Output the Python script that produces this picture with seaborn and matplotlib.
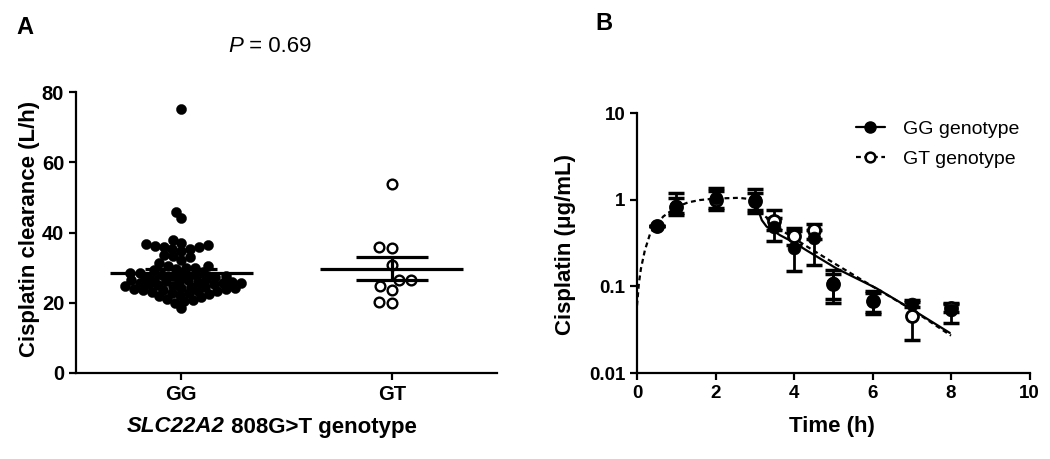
import numpy as np
import pandas as pd
import matplotlib
matplotlib.use("Agg")
import matplotlib.pyplot as plt
import seaborn as sns
from matplotlib.offsetbox import TextArea, HPacker, AnchoredOffsetbox
from matplotlib.lines import Line2D

sns.set_theme(style="ticks")
plt.rcParams['font.family'] = ['Liberation Sans', 'DejaVu Sans']
plt.rcParams['text.color'] = 'black'
plt.rcParams['axes.labelcolor'] = 'black'
plt.rcParams['xtick.color'] = 'black'
plt.rcParams['ytick.color'] = 'black'

# ---------------- Panel A data ----------------
genotypes = ["GG", "GT"]
gg_clearance = [75.3, 45.8, 44.2, 37.9,
                36.2, 35.8, 35.2, 36.6, 36.9, 35.3, 36.0, 36.3,
                33.6, 33.0, 34.8, 32.2, 33.2,
                30.5, 30.0, 31.2, 30.5, 29.7, 29.9,
                28.8, 28.5, 28.2, 28.0, 27.8, 27.5, 27.3, 27.0, 26.8, 26.6,
                26.4, 26.2, 26.0, 25.8, 25.6, 25.5, 25.3, 25.1, 24.9, 24.7,
                24.5, 24.3, 24.1, 23.9, 23.7, 23.5, 23.3, 23.1, 22.9, 22.7,
                22.5, 22.3, 28.6, 27.6, 26.9, 26.3, 25.7, 25.2, 24.6, 24.0,
                23.4, 29.2,
                21.5, 20.8, 20.5, 20.0, 21.0, 21.8, 18.6]
gt_clearance = [53.9, 35.8, 35.5, 30.8, 26.5, 26.5, 23.6, 24.8, 19.8, 20.3]
a_yticks = [0, 20, 40, 60, 80]

# ---------------- Panel B data ----------------
times = [0.5, 1, 2, 3, 3.5, 4, 4.5, 5, 6, 7, 8]
gg_conc = [0.50, 0.85, 1.04, 1.00, 0.49, 0.28, 0.36, 0.108, 0.067, 0.063, 0.054]
gg_low = [0.50, 0.67, 0.75, 0.70, 0.33, 0.15, 0.177, 0.064, 0.048, 0.058, 0.038]
gg_high = [0.50, 1.19, 1.37, 1.32, 0.62, 0.43, 0.45, 0.155, 0.089, 0.070, 0.064]
gt_conc = [0.50, 0.82, 1.00, 0.97, 0.56, 0.38, 0.45, 0.105, 0.068, 0.045, 0.056]
gt_low = [0.50, 0.70, 0.80, 0.75, 0.45, 0.30, 0.35, 0.071, 0.050, 0.024, 0.050]
gt_high = [0.50, 1.05, 1.25, 1.19, 0.76, 0.47, 0.53, 0.140, 0.083, 0.066, 0.063]
gg_fit_t = [3.0, 3.05, 3.18, 3.3, 3.64, 4.0, 4.32, 5.09, 6.1, 7.04, 7.97]
gg_fit_c = [1.0, 0.85, 0.58, 0.49, 0.39, 0.32, 0.26, 0.16, 0.095, 0.053, 0.029]
gt_fit_t = [0, 0.05, 0.1, 0.2, 0.33, 0.5, 0.67, 1.0, 1.3, 1.6, 2.0, 2.6, 3.0,
            3.13, 3.47, 3.73, 4.32, 5.09, 6.0, 7.0, 8.0]
gt_fit_c = [0.06, 0.11, 0.16, 0.26, 0.40, 0.52, 0.64, 0.82, 0.93, 0.99, 1.03,
            1.05, 1.0, 0.73, 0.53, 0.43, 0.29, 0.177, 0.10, 0.054, 0.027]
b_xticks = [0, 2, 4, 6, 8, 10]
b_yticks = [0.01, 0.1, 1, 10]
b_yticklabels = ["0.01", "0.1", "1", "10"]
legend_labels = ["GG genotype", "GT genotype"]

W, H = 1050, 459
fig = plt.figure(figsize=(W / 100, H / 100), dpi=100)
fig.patch.set_facecolor("white")

def fx(px):
    return px / W

def fy(py):
    return 1 - py / H

axA = fig.add_axes([fx(76), fy(373), fx(497 - 76), (373 - 92) / H])
axB = fig.add_axes([fx(637), fy(373), fx(1029.5 - 637), (373 - 113) / H])

for ax in (axA, axB):
    ax.set_facecolor("white")
    for s in ("top", "right"):
        ax.spines[s].set_visible(False)
    for s in ("left", "bottom"):
        ax.spines[s].set_linewidth(1.6)
        ax.spines[s].set_color("black")
    ax.tick_params(direction="out", length=5, width=1.6, color="black",
                   labelcolor="black")
    ax.grid(False)

# ---------------- Panel A ----------------
dfA = pd.DataFrame({
    "genotype": ["GG"] * len(gg_clearance) + ["GT"] * len(gt_clearance),
    "clearance": gg_clearance + gt_clearance,
})
# swarm laid out with a smaller marker so that points overlap like the original
sns.swarmplot(data=dfA[dfA.genotype == "GG"], x="genotype", y="clearance",
              order=genotypes, color="black", edgecolor="black", linewidth=0.3,
              size=6.0, ax=axA, zorder=3)
sns.swarmplot(data=dfA[dfA.genotype == "GT"], x="genotype", y="clearance",
              order=genotypes, color="white", edgecolor="black", linewidth=1.7,
              size=7.0, ax=axA, zorder=3)
swarm_cols = list(axA.collections)
fig.canvas.draw()  # compute swarm positions
gg_coll = swarm_cols[0]
if "draw" in gg_coll.__dict__:
    del gg_coll.__dict__["draw"]  # freeze positions
gg_coll.set_sizes([7.3 ** 2])

for i, vals in enumerate([gg_clearance, gt_clearance]):
    v = np.asarray(vals)
    m = v.mean()
    se = v.std(ddof=1) / np.sqrt(len(v))
    axA.hlines(m, i - 0.34, i + 0.34, color="black", lw=2.3, zorder=4)
    axA.hlines([m - se, m + se], i - 0.17, i + 0.17, color="black", lw=2.3, zorder=4)
    axA.vlines(i, m - se, m + se, color="black", lw=2.3, zorder=4)

axA.set_xlim(-0.5, 1.5)
axA.set_ylim(0, 80)
axA.set_yticks(a_yticks)
axA.set_xticks([0, 1])
axA.set_xticklabels(genotypes)
for lab in axA.get_xticklabels() + axA.get_yticklabels():
    lab.set_fontweight("bold")
    lab.set_fontsize(14.5)
axA.set_xlabel("")
axA.set_ylabel("Cisplatin clearance (L/h)", fontsize=16, fontweight="bold", color="black")
axA.yaxis.set_label_coords((40 - 76) / 421, 0.512)

# x label with italic gene name
xl = HPacker(children=[
    TextArea("SLC22A2", textprops=dict(fontsize=16, fontweight="bold", fontstyle="italic", color="black")),
    TextArea(" 808G>T genotype", textprops=dict(fontsize=16, fontweight="bold", color="black")),
], align="baseline", pad=0, sep=0)
fig.add_artist(AnchoredOffsetbox(loc="center", child=xl, frameon=False, pad=0, borderpad=0,
                                 bbox_to_anchor=(fx(272), fy(427)),
                                 bbox_transform=fig.transFigure))

pv = HPacker(children=[
    TextArea("P", textprops=dict(fontsize=16, fontstyle="italic", color="black")),
    TextArea(" = 0.69", textprops=dict(fontsize=16, color="black")),
], align="baseline", pad=0, sep=0)
fig.add_artist(AnchoredOffsetbox(loc="center", child=pv, frameon=False, pad=0, borderpad=0,
                                 bbox_to_anchor=(fx(270), fy(47)),
                                 bbox_transform=fig.transFigure))

fig.text(fx(25), fy(27), "A", fontsize=17, fontweight="bold", ha="center", va="center", color="black")
fig.text(fx(604), fy(24), "B", fontsize=17, fontweight="bold", ha="center", va="center", color="black")

# ---------------- Panel B ----------------
axB.set_yscale("log")
sns.lineplot(x=gt_fit_t, y=gt_fit_c, color="black", lw=1.6, ax=axB,
             estimator=None, sort=False, zorder=2)
axB.lines[-1].set_linestyle((0, (2.2, 1.6)))
sns.lineplot(x=gg_fit_t, y=gg_fit_c, color="black", lw=1.6, ax=axB,
             estimator=None, sort=False, zorder=2)

gt_c = np.asarray(gt_conc)
gg_c = np.asarray(gg_conc)
axB.errorbar(times, gt_c, yerr=[gt_c - np.asarray(gt_low), np.asarray(gt_high) - gt_c],
             fmt="none", ecolor="black", elinewidth=2, capsize=6, capthick=2.5, zorder=3)
axB.errorbar(times, gg_c, yerr=[gg_c - np.asarray(gg_low), np.asarray(gg_high) - gg_c],
             fmt="none", ecolor="black", elinewidth=2, capsize=6, capthick=2.5, zorder=3)
sns.scatterplot(x=times, y=gt_conc, color="white", edgecolor="black", linewidth=2,
                s=75, ax=axB, zorder=4)
sns.scatterplot(x=times, y=gg_conc, color="black", edgecolor="black", linewidth=0.5,
                s=85, ax=axB, zorder=5)

axB.set_xlim(0, 10)
axB.set_ylim(0.01, 10)
axB.set_xticks(b_xticks)
axB.set_xticklabels([str(t) for t in b_xticks])
axB.set_yticks(b_yticks)
axB.set_yticklabels(b_yticklabels)
axB.minorticks_off()
for lab in axB.get_xticklabels() + axB.get_yticklabels():
    lab.set_fontweight("bold")
    lab.set_fontsize(13.5)
axB.set_xlabel("Time (h)", fontsize=16, fontweight="bold", fontstretch="normal", color="black")
axB.xaxis.set_label_coords(0.496, (373 - 416) / 260)
axB.set_ylabel("Cisplatin (\u03bcg/mL)", fontsize=16, fontweight="bold", fontstretch="normal", color="black")
axB.yaxis.set_label_coords((576 - 637) / 392.5, 0.496)

handles = [
    Line2D([], [], color="black", ls="-", lw=1.6, marker="o", markersize=8,
           markerfacecolor="black", markeredgecolor="black"),
    Line2D([], [], color="black", ls=(0, (2.2, 1.6)), lw=1.6, marker="o", markersize=7,
           markerfacecolor="white", markeredgecolor="black", markeredgewidth=1.8),
]
leg = fig.legend(handles, legend_labels, loc="upper left", bbox_to_anchor=(fx(852), fy(116)),
                 frameon=False, fontsize=14, handlelength=1.5, handletextpad=0.9,
                 labelspacing=0.65, borderaxespad=0, borderpad=0.2)
for t in leg.get_texts():
    t.set_color("black")

fig.savefig("out.png", dpi=100, facecolor="white")
